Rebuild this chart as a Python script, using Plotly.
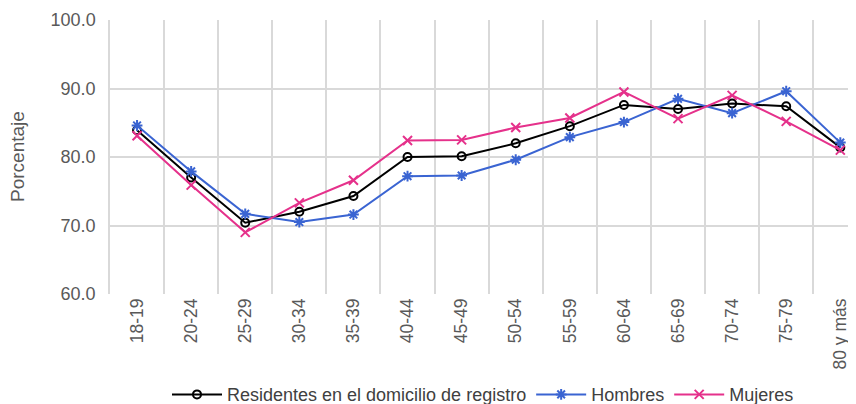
import plotly.graph_objects as go

grupos = ["18-19", "20-24", "25-29", "30-34", "35-39", "40-44", "45-49",
          "50-54", "55-59", "60-64", "65-69", "70-74", "75-79", "80 y más"]

residentes = [83.9, 77.0, 70.4, 72.0, 74.3, 80.0, 80.1, 82.0, 84.5, 87.6, 87.0, 87.8, 87.4, 81.4]
hombres = [84.6, 77.9, 71.7, 70.5, 71.6, 77.2, 77.3, 79.6, 82.9, 85.1, 88.5, 86.4, 89.6, 82.1]
mujeres = [83.1, 75.9, 69.0, 73.3, 76.6, 82.4, 82.5, 84.3, 85.7, 89.5, 85.6, 89.0, 85.2, 81.0]

fig = go.Figure()

fig.add_trace(go.Scatter(
    x=grupos, y=residentes, mode='lines+markers',
    name="Residentes en el domicilio de registro",
    line=dict(color='#000000', width=2),
    marker=dict(symbol='circle-open', size=8, color='#000000', line=dict(width=2))
))
fig.add_trace(go.Scatter(
    x=grupos, y=hombres, mode='lines+markers', name="Hombres",
    line=dict(color='#3A64D2', width=2),
    marker=dict(symbol='asterisk-open', size=9, color='#3A64D2', line=dict(width=2, color='#3A64D2'))
))
fig.add_trace(go.Scatter(
    x=grupos, y=mujeres, mode='lines+markers', name="Mujeres",
    line=dict(color='#E5318B', width=2),
    marker=dict(symbol='x-thin-open', size=9, color='#E5318B', line=dict(width=2, color='#E5318B'))
))

# titulo del eje y como anotacion para no mover el area del grafico
fig.add_annotation(
    text='Porcentaje', textangle=-90, showarrow=False,
    xref='paper', yref='paper', x=-93 / 746, y=0.5, xanchor='center', yanchor='middle',
    font=dict(size=19, color='#595959')
)

# la pagina tiene 8px de margen en el body, por eso 848x396
fig.update_layout(
    width=848, height=396,
    margin=dict(l=102, r=0, t=12, b=110, autoexpand=False),
    paper_bgcolor='white', plot_bgcolor='white',
    font=dict(family="Liberation Sans, Arial, sans-serif", size=18, color='#595959'),
    showlegend=True,
    legend=dict(orientation='h', x=0.5, xanchor='center', y=-0.30, yanchor='top',
                font=dict(size=18, color='#404040'), itemwidth=50, tracegroupgap=0),
    xaxis=dict(
        type='category', range=[-0.5, 13.29], tickangle=-90, automargin=False,
        showgrid=True, gridcolor='#D9D9D9', gridwidth=1.5, tickson='boundaries',
        showline=False, ticks='', zeroline=False, tickfont=dict(size=17.5)
    ),
    yaxis=dict(
        range=[60, 100], dtick=10, tickformat='.1f', automargin=False,
        showgrid=True, gridcolor='#D9D9D9', gridwidth=1.5,
        showline=True, linecolor='#D9D9D9', linewidth=1.5, ticklabelstandoff=9,
        zeroline=False, ticks='', tickfont=dict(size=18)
    )
)

fig.write_html("out.html")
